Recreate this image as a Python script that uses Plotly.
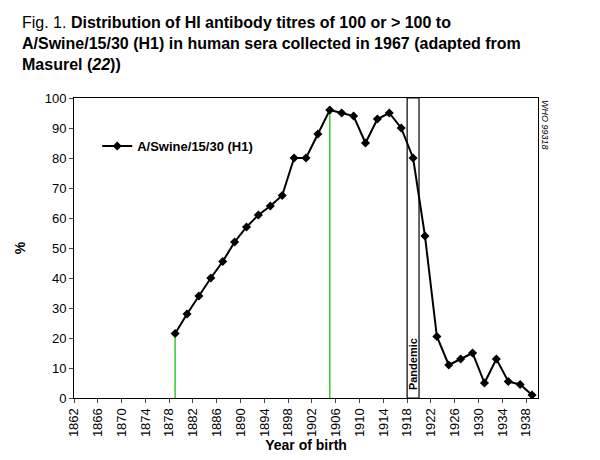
import plotly.graph_objects as go

years = list(range(1879, 1940, 2))
pct = [21.5, 28, 34, 40, 45.5, 52, 57, 61, 64, 67.5, 80, 80, 88, 96, 95, 94, 85, 93, 95, 90,
       80, 54, 20.5, 11, 13, 15, 5, 13, 5.5, 4.5, 1]
tick_years = list(range(1862, 1939, 4))
green_years = [1879, 1905]

fig = go.Figure()
for g in green_years:
    fig.add_trace(go.Scatter(x=[g, g], y=[0, pct[years.index(g)]], mode="lines",
                             line=dict(color="#33cc33", width=1.5), showlegend=False, hoverinfo="skip"))
fig.add_trace(go.Scatter(x=years, y=pct, mode="lines+markers", name="<b>A/Swine/15/30 (H1)</b>",
                         line=dict(color="black", width=2),
                         marker=dict(symbol="diamond", size=7, color="black")))
fig.add_shape(type="rect", x0=1918, x1=1920, y0=0, y1=100, line=dict(color="black", width=1.2))
fig.add_annotation(x=1919, y=2, text="<b>Pandemic</b>", textangle=-90, showarrow=False,
                   yanchor="bottom", font=dict(size=11, color="black"))
fig.add_annotation(x=1, xref="paper", y=1, yref="paper", text="<i>WHO 99318</i>", textangle=90,
                   showarrow=False, xanchor="left", yanchor="top", font=dict(size=9, color="black"))
fig.add_annotation(x=-55/475, xref="paper", y=1 + 86/300, yref="paper", xanchor="left", yanchor="top",
                   align="left", showarrow=False, font=dict(size=16, color="black"),
                   text="Fig. 1. <b>Distribution of HI antibody titres of 100 or > 100 to<br>A/Swine/15/30 (H1) in human sera collected in 1967 (adapted from<br>Masurel (</b><i><b>22</b></i><b>))</b>")

fig.update_layout(
    width=600, height=460, paper_bgcolor="white", plot_bgcolor="white",
    margin=dict(l=55, r=70, t=90, b=70),
    font=dict(family="Liberation Sans, Arial, sans-serif", color="black"),
    legend=dict(x=0.05, y=0.84, xanchor="left", yanchor="middle", bgcolor="rgba(0,0,0,0)",
                font=dict(size=13)),
    xaxis=dict(range=[1862, 1940], tickvals=tick_years, ticktext=[str(t) for t in tick_years],
               tickangle=-90, ticks="outside", ticklen=4, showgrid=False, zeroline=False,
               showline=True, linecolor="black", mirror=True, tickfont=dict(size=13),
               title=dict(text="<b>Year of birth</b>", font=dict(size=14), standoff=4)),
    yaxis=dict(range=[0, 100], dtick=10, ticks="outside", ticklen=4, showgrid=False, zeroline=False,
               showline=True, linecolor="black", mirror=True, tickfont=dict(size=13),
               title=dict(text="<b>%</b>", font=dict(size=14))),
)
fig.write_html("out.html")
